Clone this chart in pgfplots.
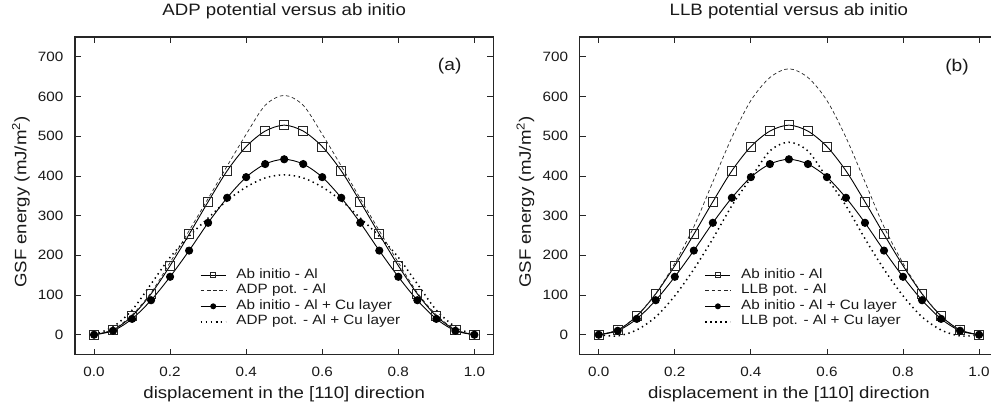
\documentclass[border=0pt]{standalone}
\usepackage{fontspec}
\setmainfont{Liberation Sans}[FakeStretch=1.13]
\usepackage{pgfplots}
\pgfplotsset{compat=1.18}
\usepackage{pgfplotstable}

% Ab initio reference values (same in both panels)
\pgfplotstableread{
x     al   alcu
0.00  0    0
0.05  12   10
0.10  47   40
0.15  103  87
0.20  174  146
0.25  253  212
0.30  335  282
0.35  413  345
0.40  474  397
0.45  513  430
0.50  528  442
0.55  513  430
0.60  474  397
0.65  413  345
0.70  335  282
0.75  253  212
0.80  174  146
0.85  103  87
0.90  47   40
0.95  12   10
1.00  0    0
}\abinitio

% ADP potential
\pgfplotstableread{
x     al   alcu
0.00  0    0
0.05  13   20
0.10  50   62
0.15  106  128
0.20  182  195
0.25  262  248
0.30  343  294
0.35  425  338
0.40  505  372
0.45  578  395
0.50  603  403
0.55  578  395
0.60  505  372
0.65  425  338
0.70  343  294
0.75  262  248
0.80  182  195
0.85  106  128
0.90  50   62
0.95  13   20
1.00  0    0
}\adp

% LLB potential
\pgfplotstableread{
x     al   alcu
0.00  0    0
0.05  12   -3
0.10  48   12
0.15  104  45
0.20  180  98
0.25  272  165
0.30  385  242
0.35  497  325
0.40  590  395
0.45  648  463
0.50  670  485
0.55  648  463
0.60  590  395
0.65  497  325
0.70  385  242
0.75  272  165
0.80  180  98
0.85  104  45
0.90  48   12
0.95  12   -3
1.00  0    0
}\llb

\pgfplotsset{
  gsf/.style={
    scale only axis, width=418.4pt, height=317.6pt,
    xmin=-0.05, xmax=1.05, ymin=-50, ymax=750,
    xtick={0,0.2,...,1.0}, ytick={0,100,...,700},
    tick align=inside, major tick length=6pt,
    axis line style={black!85, line width=1.1pt},
    tick style={black!85, line width=0.8pt},
    /pgf/number format/assume math mode=true,
    xticklabel style={/pgf/number format/fixed, /pgf/number format/fixed zerofill,
      /pgf/number format/precision=1},
    tick label style={font=\fontsize{13.5}{16}\selectfont, text=black!90, inner sep=0pt},
    xticklabel style={anchor=base, yshift=-22pt},
    yticklabel style={anchor=east, xshift=-11.5pt},
    label style={font=\fontsize{16.5}{19}\selectfont, text=black!90},
    xlabel={displacement in the [110] direction},
    ylabel={GSF energy (mJ/m\textsuperscript{2})},
    xlabel style={at={(axis description cs:0.5,-0.138)}, anchor=base},
    ylabel style={at={(axis description cs:-0.1295,0.48)}, anchor=center},
    title style={at={(axis description cs:0.5,1.048)}, anchor=base,
      font=\fontsize{16.5}{19}\selectfont, text=black!90},
    legend style={draw=none, fill=none, at={(axis description cs:0.291,0.281)},
      anchor=north west, font=\fontsize{13.5}{15}\selectfont, text=black!90,
      column sep=10pt, row sep=0pt,
      nodes={inner sep=0pt, text height=10.5pt, text depth=5pt}},
    legend cell align=left,
    legend image code/.code={
      \draw[mark repeat=2, mark phase=2, #1, mark size=2.5pt]
        plot coordinates {(0pt,0pt) (12.5pt,0pt) (25pt,0pt)};},
  },
  abal/.style={black, line width=0.9pt, smooth, mark=square,
    mark size=4.6pt, mark options={solid, line width=0.9pt, draw=black!85}},
  abcu/.style={black, line width=0.9pt, smooth, mark=*,
    mark size=3.6pt, mark options={solid, fill=black}},
  potal/.style={black!85, line width=0.7pt, smooth, no markers,
    dash pattern=on 3.5pt off 2.7pt},
  potcu/.style={black, line width=1.5pt, smooth, no markers,
    dash pattern=on 1.4pt off 3.6pt},
}

\begin{document}
\begin{tikzpicture}[x=1pt, y=1pt]
\begin{axis}[gsf, at={(75pt,52.4pt)}, anchor=south west,
  title={ADP potential versus ab initio}]
\addplot[abal] table[x=x, y=al] {\abinitio};
\addlegendentry{Ab initio - Al}
\addplot[potal] table[x=x, y=al] {\adp};
\addlegendentry{ADP pot. - Al}
\addplot[abcu] table[x=x, y=alcu] {\abinitio};
\addlegendentry{Ab initio - Al + Cu layer}
\addplot[potcu] table[x=x, y=alcu] {\adp};
\addlegendentry{ADP pot. - Al + Cu layer}
\node[font=\fontsize{17}{20}\selectfont, text=black!90] at (axis cs:0.935,677) {(a)};
\end{axis}

\begin{axis}[gsf, at={(579.7pt,52.4pt)}, anchor=south west,
  title={LLB potential versus ab initio}]
\addplot[abal] table[x=x, y=al] {\abinitio};
\addlegendentry{Ab initio - Al}
\addplot[potal] table[x=x, y=al] {\llb};
\addlegendentry{LLB pot. - Al}
\addplot[abcu] table[x=x, y=alcu] {\abinitio};
\addlegendentry{Ab initio - Al + Cu layer}
\addplot[potcu] table[x=x, y=alcu] {\llb};
\addlegendentry{LLB pot. - Al + Cu layer}
\node[font=\fontsize{17}{20}\selectfont, text=black!90] at (axis cs:0.942,674) {(b)};
\end{axis}
\pgfresetboundingbox
\path[use as bounding box] (0pt,0pt) rectangle (991pt,407pt);
\end{tikzpicture}
\end{document}
